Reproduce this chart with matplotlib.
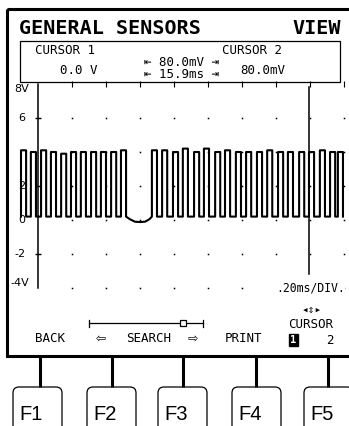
import matplotlib
matplotlib.use("Agg")
from matplotlib import pyplot as plt
from matplotlib.patches import Rectangle, FancyBboxPatch

# waveform: rising / falling edges (divisions) and high level per pulse (V)
rise = [-0.50, -0.21, 0.09, 0.38, 0.68, 0.97, 1.26, 1.56, 1.85, 2.15, 2.44,
        3.35, 3.65, 3.97, 4.26, 4.59, 4.88, 5.21, 5.50, 5.82, 6.12, 6.44,
        6.74, 7.06, 7.35, 7.68, 7.97, 8.29, 8.59, 8.82]
fall = [-0.35, -0.06, 0.24, 0.53, 0.83, 1.12, 1.41, 1.71, 2.00, 2.30, 2.59,
        3.50, 3.80, 4.12, 4.41, 4.74, 5.03, 5.36, 5.65, 5.97, 6.27, 6.59,
        6.89, 7.21, 7.50, 7.83, 8.12, 8.44, 8.74, 8.97]
high = [4.1, 4.0, 4.1, 4.0, 3.9, 4.0, 4.0, 4.0, 4.0, 4.0, 4.1,
        4.1, 4.1, 4.0, 4.2, 4.0, 4.2, 4.0, 4.1, 4.0, 4.0, 4.0,
        4.1, 4.0, 4.0, 4.0, 4.0, 4.1, 4.0, 4.0]
low = 0.2
# dip in the gap after pulse 11
dip_t = [2.70, 2.85, 3.00, 3.15, 3.28]
dip_v = [0.05, -0.1, -0.12, -0.1, 0.05]

grid_rows = [8, 6, 4, 2, 0, -2, -4]
grid_cols = [1, 2, 3, 4, 5, 6, 7, 8, 9]
y_labels = {8: "8V", 6: "6", 2: "2", 0: "0", -2: "-2", -4: "-4V"}
cursor1 = 0.0
cursor2 = 7.97

keys = ["F1", "F2", "F3", "F4", "F5"]
key_x = [13, 87, 158, 232, 304]
link_x = [40, 112, 183, 256, 328]

W, H = 349, 426
fig = plt.figure(figsize=(W / 100, H / 100), dpi=100)
fig.patch.set_facecolor("white")

bg = fig.add_axes([0, 0, 1, 1])
bg.set_xlim(0, W)
bg.set_ylim(H, 0)
bg.axis("off")

mono = ["DejaVu Sans Mono", "DejaVu Sans"]

# screen frame
bg.add_patch(Rectangle((7, 9), 350, 347, fill=False, lw=2.2, ec="black"))
bg.text(19, 29, "GENERAL SENSORS", family=mono, weight="bold", fontsize=14.5,
        va="center", ha="left")
bg.text(341, 29, "VIEW", family=mono, weight="bold", fontsize=14.5,
        va="center", ha="right")

# cursor readout box
bg.add_patch(Rectangle((20, 41), 320, 41, fill=False, lw=0.9, ec="black"))
fs = 9.0
bg.text(35, 51, "CURSOR 1", family=mono, fontsize=fs, va="center")
bg.text(60, 70, "0.0 V", family=mono, fontsize=fs, va="center")
bg.text(222, 51, "CURSOR 2", family=mono, fontsize=fs, va="center")
bg.text(240, 70, "80.0mV", family=mono, fontsize=fs, va="center")
bg.text(181, 63, "⇤ 80.0mV ⇥", family=mono, fontsize=fs, va="center", ha="center")
bg.text(181, 75, "⇤ 15.9ms ⇥", family=mono, fontsize=fs, va="center", ha="center")

# soft key labels
bg.text(35, 338, "BACK", family=mono, fontsize=fs, va="center")
bg.text(101, 338, "⇦", family=mono, fontsize=12, va="center", ha="center")
bg.text(149, 338, "SEARCH", family=mono, fontsize=fs, va="center", ha="center")
bg.text(192, 338, "⇨", family=mono, fontsize=12, va="center", ha="center")
bg.plot([89, 203], [323, 323], color="black", lw=0.9)
bg.plot([89, 89], [319.5, 326.5], color="black", lw=0.9)
bg.plot([203, 203], [319.5, 326.5], color="black", lw=0.9)
bg.add_patch(Rectangle((180, 320), 6, 6, fc="white", ec="black", lw=0.9, zorder=3))
bg.text(225, 338, "PRINT", family=mono, fontsize=fs, va="center")
bg.text(312, 310, "◂⇕▸", family=mono, fontsize=8, va="center", ha="center")
bg.text(311, 325, "CURSOR", family=mono, fontsize=fs, va="center", ha="center")
bg.text(293.5, 340, "1", family=mono, fontsize=7.5, va="center", ha="center",
        color="white", weight="bold",
        bbox=dict(boxstyle="square,pad=0.1", fc="black", ec="black"))
bg.text(330, 340, "2", family=mono, fontsize=fs, va="center", ha="center")

# function keys
for kx, lx, name in zip(key_x, link_x, keys):
    bg.plot([lx, lx], [356, 387], color="black", lw=2.2, solid_capstyle="butt")
    bg.add_patch(FancyBboxPatch((kx, 387), 49, 60,
                                boxstyle="round,pad=0,rounding_size=6",
                                fc="white", ec="black", lw=0.9))
    bg.text(kx + 6, 414, name, family="Liberation Sans", fontsize=14.5,
            va="center", ha="left")

# scope trace area
ax = fig.add_axes([21 / W, 1 - 296.5 / H, 323 / W, 212.5 / H])
ax.set_xlim(-0.5, 9)
ax.set_ylim(-4.5, 8)
ax.axis("off")
ax.patch.set_alpha(0)

for r in grid_rows:
    if r == 8:
        ax.plot(grid_cols, [r] * len(grid_cols), ls="none", marker="|",
                ms=4, color="black", mew=0.8, clip_on=False)
    else:
        ax.plot(grid_cols, [r] * len(grid_cols), ls="none", marker="s",
                ms=1.1, color="black", mew=0, clip_on=False)
    if r in y_labels:
        ax.text(-0.26 if "V" in y_labels[r] else -0.37, r, y_labels[r],
                fontsize=8, ha="right",
                va="top" if r == 8 else ("bottom" if r == -4 else "center"))

# cursors
ax.plot([cursor1, cursor1], [-4, 8], color="black", lw=1.1, clip_on=False)
ax.plot([cursor1] * 3, [6, 2, -2], ls="none", marker="_", ms=4, color="black")
ax.plot([cursor2, cursor2], [-3.2, 7.8], color="black", lw=1.1, clip_on=False)
ax.text(9.02, -4, ".20ms/DIV.", family=mono, fontsize=8.3, ha="right", va="center",
        zorder=5, bbox=dict(boxstyle="square,pad=0.05", fc="white", ec="none"))

# signal
tx, vy = [rise[0]], [low]
for i, (a, b, h) in enumerate(zip(rise, fall, high)):
    tx += [a, a, b, b]
    vy += [low, h, h, low]
    if i == 10:
        tx += dip_t
        vy += dip_v
ax.plot(tx, vy, color="black", lw=1.5, clip_on=False)

fig.savefig("out.png", dpi=100)
